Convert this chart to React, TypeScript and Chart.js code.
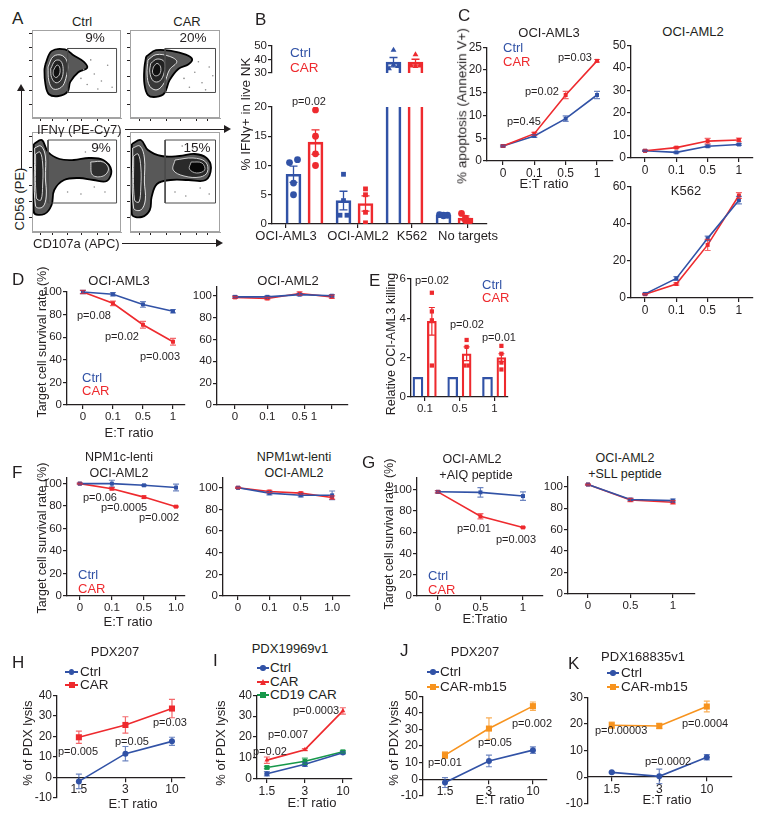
import React, { useEffect, useRef } from 'react';
import { Chart, registerables } from 'chart.js';

Chart.register(...registerables);

const FONT = '"Liberation Sans", Arial, Helvetica, sans-serif';
const INK = '#231f20';
const BLUE = '#3152a6';
const RED = '#ee2a2e';
const ORANGE = '#f7931e';
const GREEN = '#17984a';
const BLUE_ERR = 'rgba(49,82,166,0.7)';
const RED_ERR = 'rgba(238,42,46,0.7)';
const ORANGE_ERR = 'rgba(247,147,30,0.75)';
const GREEN_ERR = 'rgba(23,152,74,0.75)';

// ---------------- Panel A (flow plots, coordinates in % of plot) ----------------
const aHeaders = ['Ctrl', 'CAR'];
const aPercents = ['9%', '20%', '9%', '15%'];
const aTicksX = [10, 23, 40, 56, 74, 86];
const aTicksY = [15, 31, 47, 65, 80, 96];

const a1Gate = [[40, 29], [95, 29], [95, 79], [40, 79], [40, 29]];
const a1Outer = [[15, 61], [22, 76], [37, 78], [47, 71], [58, 64], [62, 57], [52, 52], [43, 41], [40, 30], [30, 25], [19, 27], [15, 39], [14, 54], [15, 61]];
const a1C2 = [[18, 58], [24, 70], [34, 71], [40, 62], [38, 45], [33, 35], [24, 33], [19, 42], [18, 58]];
const a1C3 = [[21, 56], [26, 65], [32, 65], [35, 56], [33, 44], [27, 40], [22, 46], [21, 56]];
const a1C4 = [[24, 54], [28, 60], [31, 58], [31, 50], [27, 46], [24, 49], [24, 54]];
const a1Dots = [[55, 45], [62, 38], [70, 50], [78, 42], [85, 60], [66, 66], [90, 35], [58, 55], [74, 33]];

const a2Gate = [[39, 29], [95, 29], [95, 79], [39, 79], [39, 29]];
const a2Outer = [[18, 70], [29, 77], [47, 76], [62, 72], [69, 67], [65, 61], [54, 56], [44, 43], [38, 28], [29, 24], [20, 26], [16, 39], [16, 57], [18, 70]];
const a2C2 = [[20, 66], [29, 72], [44, 70], [52, 64], [44, 55], [38, 40], [30, 32], [22, 36], [19, 50], [20, 66]];
const a2C3 = [[23, 62], [30, 67], [38, 64], [38, 52], [33, 42], [26, 42], [22, 52], [23, 62]];
const a2C4 = [[26, 58], [30, 62], [34, 58], [33, 50], [28, 48], [25, 52], [26, 58]];
const a2Dots = [[60, 45], [72, 52], [80, 40], [88, 58], [66, 35], [92, 48], [76, 64], [84, 32]];

const a3Gate = [[18, 29], [95, 29], [95, 92], [18, 92], [18, 29]];
const a3Outer = [[2, 88], [11, 92], [18, 80], [31, 73], [47, 72], [64, 74], [80, 72], [89, 62], [84, 51], [69, 52], [53, 54], [36, 52], [25, 42], [22, 27], [14, 18], [2, 20], [2, 88]];
const a3C2 = [[3, 84], [10, 86], [15, 76], [15, 55], [16, 36], [12, 25], [4, 26], [3, 84]];
const a3C3 = [[4, 78], [9, 80], [12, 68], [12, 48], [10, 32], [5, 34], [4, 78]];
const a3Tail = [[66, 70], [80, 70], [86, 63], [80, 56], [68, 57], [66, 70]];
const a3Dots = [[40, 40], [55, 38], [70, 45], [82, 40], [60, 80], [75, 84]];

const a4Gate = [[39, 29], [95, 29], [95, 92], [39, 92], [39, 29]];
const a4Outer = [[2, 88], [12, 92], [20, 82], [35, 76], [55, 76], [72, 78], [85, 74], [90, 64], [84, 52], [65, 52], [45, 52], [30, 48], [24, 35], [22, 22], [13, 15], [2, 18], [2, 88]];
const a4C2 = [[3, 84], [11, 86], [16, 74], [16, 50], [17, 32], [12, 22], [4, 24], [3, 84]];
const a4C3 = [[4, 76], [9, 78], [12, 65], [12, 45], [10, 30], [5, 32], [4, 76]];
const a4Tail = [[50, 72], [70, 74], [84, 70], [86, 60], [78, 55], [60, 56], [48, 62], [50, 72]];
const a4Core = [[68, 70], [80, 69], [83, 62], [74, 59], [66, 63], [68, 70]];
const a4Dots = [[50, 40], [62, 36], [78, 44], [88, 38], [70, 84], [58, 86]];

// ---------------- Panel B ----------------
const bCategories = ['OCI-AML3', 'OCI-AML2', 'K562', 'No targets'];
const bCtrlMean = [8.5, 4.0, 38.0, 1.5];
const bCtrlSem = [1.4, 1.6, 3.5, 0.3];
const bCarMean = [14.0, 3.5, 38.0, 1.0];
const bCarSem = [2.1, 1.3, 2.2, 0.4];
const bCtrlPts = [[10.5, 11.0, 7.0, 5.0], [8.5, 4.0, 1.5, 1.5], [47.0, 33.3, 36.0, 35.0], [1.6, 1.5, 1.5, 1.4]];
const bCarPts = [[19.5, 15.0, 12.0, 10.0], [6.0, 5.0, 2.0, 0.2], [43.6, 35.4, 35.0, 35.4], [1.8, 1.0, 0.5, 0.6]];
const bYTicksLow = [0, 5, 10, 15, 20];
const bYTicksHigh = [30, 40, 50];
const bPValue = 'p=0.02';

// ---------------- Panel C ----------------
const cEtLabels = ['0', '0.1', '0.5', '1'];
const cAml3Ctrl = [3.3, 5.5, 9.3, 14.5];
const cAml3CtrlErr = [0.2, 0.3, 0.6, 0.8];
const cAml3Car = [3.3, 6.0, 14.5, 22.0];
const cAml3CarErr = [0.2, 0.3, 0.8, 0.3];
const cAml2Ctrl = [3.2, 2.5, 5.2, 6.0];
const cAml2CtrlErr = [0.3, 0.3, 0.5, 0.4];
const cAml2Car = [3.2, 4.6, 7.5, 8.0];
const cAml2CarErr = [0.3, 0.4, 1.2, 0.8];
const cK562Ctrl = [2.2, 10.5, 32.0, 52.5];
const cK562CtrlErr = [0.4, 1.0, 1.2, 2.0];
const cK562Car = [2.0, 7.5, 28.5, 55.0];
const cK562CarErr = [0.3, 0.6, 3.0, 1.5];
const cYTicksAml3 = [0, 5, 10, 15, 20, 25];
const cYTicksAml2 = [0, 10, 20, 30, 40, 50];
const cYTicksK562 = [0, 20, 40, 60];
const cPValues = ['p=0.45', 'p=0.02', 'p=0.03'];

// ---------------- Panel D ----------------
const dEtLabels = ['0', '0.1', '0.5', '1'];
const dEtLabels2 = ['0', '0.1', '0.5 1', ''];
const dAml3Ctrl = [100, 98, 89, 83];
const dAml3CtrlErr = [1.5, 1.5, 2.5, 1.5];
const dAml3Car = [100, 90, 71, 56];
const dAml3CarErr = [1.5, 2, 3, 3];
const dAml2Ctrl = [99, 99, 101, 100];
const dAml2CtrlErr = [1, 1, 1, 1];
const dAml2Car = [98.5, 97.5, 102, 99];
const dAml2CarErr = [1, 1, 1.5, 1.5];
const survTicks = [0, 20, 40, 60, 80, 100];
const dPValues = ['p=0.08', 'p=0.02', 'p=0.003'];

// ---------------- Panel E ----------------
const eCategories = ['0.1', '0.5', '1'];
const eCtrl = [1, 1, 1];
const eCar = [3.85, 2.2, 2.0];
const eCarSem = [0.7, 0.35, 0.2];
const eCarPts = [[5.3, 4.35, 3.9, 1.6], [2.9, 2.55, 1.6, 1.6], [2.6, 2.2, 1.75, 1.4]];
const eYTicks = [0, 2, 4, 6];
const ePValues = ['p=0.02', 'p=0.02', 'p=0.01'];

// ---------------- Panel F ----------------
const fEtLabels = ['0', '0.1', '0.5', '1.0'];
const fCCtrl = [100, 100, 98.5, 96.5];
const fCCtrlErr = [0.5, 3, 0.5, 3];
const fCCar = [100, 95.5, 88, 79.5];
const fCCarErr = [0.5, 1, 1, 0.5];
const fWtCtrl = [100, 95, 93, 93];
const fWtCtrlErr = [0.5, 1.5, 1.5, 4];
const fWtCar = [100, 96.5, 95, 91];
const fWtCarErr = [0.5, 1, 1, 1.5];
const fPValues = ['p=0.06', 'p=0.0005', 'p=0.002'];

// ---------------- Panel G ----------------
const gEtLabels = ['0', '0.5', '1'];
const gAiqCtrl = [98, 97.5, 94];
const gAiqCtrlErr = [1, 4.5, 4];
const gAiqCar = [98, 75, 64.5];
const gAiqCarErr = [1, 2.5, 0.5];
const gSllCtrl = [102, 88, 87];
const gSllCtrlErr = [0.5, 1, 1.5];
const gSllCar = [102, 87.5, 85.5];
const gSllCarErr = [0.5, 1.5, 1.5];
const gPValues = ['p=0.01', 'p=0.003'];

// ---------------- Panels H-K ----------------
const pdxEtLabels = ['1.5', '3', '10'];
const hCtrl = [-2, 11.5, 17.5];
const hCtrlErr = [3.5, 3.5, 2];
const hCar = [19.5, 25.5, 33.5];
const hCarErr = [3, 4, 4.5];
const hYTicks = [-10, 0, 10, 20, 30, 40];
const hPValues = ['p=0.005', 'p=0.05', 'p=0.03'];

const iCtrl = [2.5, 7, 12.5];
const iCtrlErr = [1, 1, 0.5];
const iCar = [9, 14, 32.5];
const iCarErr = [1.5, 0.5, 1.5];
const iCd19 = [5.5, 8.5, 13];
const iCd19Err = [0.5, 1.5, 0.5];
const iYTicks = [0, 10, 20, 30, 40];
const iPValues = ['p=0.02', 'p=0.007', 'p=0.0003'];

const jCtrl = [-2, 11, 17.5];
const jCtrlErr = [3, 3.5, 2];
const jCar = [14.5, 30.5, 44];
const jCarErr = [2, 6.5, 2.5];
const jYTicks = [-10, 0, 10, 20, 30, 40, 50];
const jPValues = ['p=0.01', 'p=0.05', 'p=0.002'];

const kCtrl = [1.8, 0.3, 7.5];
const kCtrlErr = [0.3, 2.7, 1];
const kCar = [19.5, 19.2, 26.5];
const kCarErr = [1.2, 1, 2];
const kYTicks = [-10, 0, 10, 20, 30];
const kPValues = ['p=0.00003', 'p=0.0002', 'p=0.0004'];

// ============ helpers ============
type Rect = { x0: number; y0: number; x1: number; y1: number };
const AX_L = 34;
const AX_B = 22;
const PAD = 8;

function makeErrorBars(clip: boolean) {
  return {
    id: 'errorBars',
    afterDatasetsDraw(chart: any) {
      const { ctx, chartArea } = chart;
      ctx.save();
      if (clip) {
        ctx.beginPath();
        ctx.rect(chartArea.left - 10, chartArea.top, chartArea.right - chartArea.left + 20, chartArea.bottom - chartArea.top);
        ctx.clip();
      }
      chart.data.datasets.forEach((ds: any, i: number) => {
        if (!ds.errors) return;
        const meta = chart.getDatasetMeta(i);
        const ys = chart.scales[meta.yAxisID];
        ctx.strokeStyle = ds.errColor || ds.borderColor;
        ctx.lineWidth = ds.errWidth || 1.2;
        const cap = ds.errCap ?? 3;
        meta.data.forEach((el: any, j: number) => {
          const e = ds.errors[j];
          if (!e) return;
          const raw = ds.data[j];
          const v = typeof raw === 'number' ? raw : raw.y;
          const x = el.x;
          const y1 = ys.getPixelForValue(v + e);
          const y2 = ys.getPixelForValue(v - e);
          ctx.beginPath();
          ctx.moveTo(x, y1);
          ctx.lineTo(x, y2);
          ctx.moveTo(x - cap, y1);
          ctx.lineTo(x + cap, y1);
          ctx.moveTo(x - cap, y2);
          ctx.lineTo(x + cap, y2);
          ctx.stroke();
        });
      });
      ctx.restore();
    },
  };
}

const framePlugin = {
  id: 'frame',
  afterDraw(chart: any) {
    const { ctx, chartArea: a } = chart;
    ctx.save();
    ctx.strokeStyle = '#a3a3a3';
    ctx.lineWidth = 1;
    ctx.strokeRect(a.left + 0.5, a.top + 0.5, a.right - a.left - 1, a.bottom - a.top - 1);
    ctx.restore();
  },
};

function axisBase(size: number) {
  return {
    offset: false,
    grid: { display: true, offset: false, drawOnChartArea: false, drawTicks: true, tickLength: 4, color: INK, lineWidth: 1.2 },
    border: { display: true, color: INK, width: 1.3 },
    ticks: { color: INK, font: { family: FONT, size }, padding: 1, autoSkip: false, maxRotation: 0, minRotation: 0 },
  };
}

function yAxis(min: number, max: number, ticks: number[], size = 11.5) {
  const b = axisBase(size);
  return {
    type: 'linear',
    min,
    max,
    bounds: 'data',
    afterFit: (s: any) => { s.width = AX_L; },
    afterBuildTicks: (s: any) => { s.ticks = ticks.map((value) => ({ value })); },
    ...b,
  };
}

function xAxis(min: number, max: number, tickVals: number[], labels: string[], size = 11.5, atZero = false) {
  const b = axisBase(size);
  return {
    type: 'linear',
    min,
    max,
    bounds: 'data',
    position: atZero ? { y: 0 } : 'bottom',
    afterFit: (s: any) => { s.height = AX_B; },
    afterBuildTicks: (s: any) => { s.ticks = tickVals.map((value) => ({ value })); },
    ...b,
    ticks: { ...b.ticks, callback: (_v: any, i: number) => labels[i] ?? '' },
  };
}

function ChartCanvas({ left, top, width, height, make }: { left: number; top: number; width: number; height: number; make: () => any }) {
  const ref = useRef<HTMLCanvasElement | null>(null);
  useEffect(() => {
    if (!ref.current) return;
    const chart = new Chart(ref.current, make());
    return () => chart.destroy();
  }, []);
  return <canvas ref={ref} width={width} height={height} style={{ position: 'absolute', left, top, width, height }} />;
}

function ser(vals: number[], errs: number[], color: string, errColor: string, style = 'rect', r = 2.8) {
  return {
    type: 'line',
    data: vals.map((y, i) => ({ x: i, y })),
    errors: errs,
    errColor,
    borderColor: color,
    backgroundColor: color,
    borderWidth: 1.6,
    pointStyle: style,
    pointRadius: r,
    pointBorderWidth: 0,
    pointBackgroundColor: color,
    tension: 0,
    clip: false,
    fill: false,
  };
}

type LineSpec = {
  rect: Rect;
  xMin: number;
  xMax: number;
  xTicks: number[];
  xLabels: string[];
  yMin: number;
  yMax: number;
  yTicks: number[];
  series: () => any[];
  atZero?: boolean;
  size?: number;
};

function LinePanel(p: LineSpec) {
  const r = p.rect;
  const bottom = p.atZero ? PAD : AX_B;
  const left = r.x0 - AX_L;
  const top = r.y0 - PAD;
  const width = r.x1 - r.x0 + AX_L + PAD;
  const height = r.y1 - r.y0 + PAD + bottom;
  const size = p.size ?? 11.5;
  return (
    <ChartCanvas
      left={left}
      top={top}
      width={width}
      height={height}
      make={() => ({
        type: 'line',
        data: { datasets: p.series() },
        options: {
          animation: false,
          responsive: false,
          events: [],
          layout: { padding: { top: PAD, right: PAD, left: 0, bottom: p.atZero ? PAD : 0 } },
          plugins: { legend: { display: false }, tooltip: { enabled: false } },
          scales: {
            x: xAxis(p.xMin, p.xMax, p.xTicks, p.xLabels, size, !!p.atZero),
            y: yAxis(p.yMin, p.yMax, p.yTicks, size),
          },
        },
        plugins: [makeErrorBars(false)],
      })}
    />
  );
}

type Layer = { pts: number[][]; fill: string; stroke: string; width: number };

function FlowPlot({ rect, layers, gate, dots }: { rect: Rect; layers: Layer[]; gate: number[][]; dots: number[][] }) {
  const L = 4;
  const Bt = 4;
  const P = 2;
  const left = rect.x0 - L;
  const top = rect.y0 - P;
  const width = rect.x1 - rect.x0 + L + P;
  const height = rect.y1 - rect.y0 + P + Bt;
  const toXY = (arr: number[][]) => arr.map(([x, y]) => ({ x, y }));
  const tickAxis = (ticks: number[], fit: (s: any) => void, pos: string) => ({
    type: 'linear',
    min: 0,
    max: 100,
    bounds: 'data',
    position: pos,
    afterFit: fit,
    afterBuildTicks: (s: any) => { s.ticks = ticks.map((value) => ({ value })); },
    grid: { display: true, drawOnChartArea: false, drawTicks: true, tickLength: 3, color: INK, lineWidth: 1 },
    border: { display: true, color: '#a3a3a3', width: 1 },
    ticks: { display: false },
  });
  return (
    <ChartCanvas
      left={left}
      top={top}
      width={width}
      height={height}
      make={() => ({
        type: 'line',
        data: {
          datasets: [
            { type: 'scatter', data: toXY(dots), pointRadius: 0.8, pointBackgroundColor: '#8a8a8a', pointBorderWidth: 0 },
            { type: 'line', data: toXY(gate), borderColor: '#4a4a4a', borderWidth: 1, pointRadius: 0, tension: 0, fill: false },
            ...layers
              .slice()
              .reverse()
              .map((l) => ({
                type: 'line',
                data: toXY(l.pts),
                borderColor: l.stroke,
                borderWidth: l.width,
                backgroundColor: l.fill,
                fill: 'shape',
                pointRadius: 0,
                tension: 0.38,
              })),
          ],
        },
        options: {
          animation: false,
          responsive: false,
          events: [],
          layout: { padding: { top: P, right: P, left: 0, bottom: 0 } },
          plugins: { legend: { display: false }, tooltip: { enabled: false } },
          scales: {
            x: tickAxis(aTicksX, (s: any) => { s.height = Bt; }, 'bottom'),
            y: tickAxis(aTicksY, (s: any) => { s.width = L; }, 'left'),
          },
        },
        plugins: [framePlugin],
      })}
    />
  );
}

function Txt({ x, y, children, size = 13, color = INK, align = 'left', vertical = false }: any) {
  let transform = 'translateY(-50%)';
  if (align === 'center') transform = 'translate(-50%,-50%)';
  if (vertical) transform = 'translate(-50%,-50%) rotate(-90deg)';
  return (
    <div style={{ position: 'absolute', left: x, top: y, fontFamily: FONT, fontSize: size, color, whiteSpace: 'nowrap', lineHeight: 1, transform }}>
      {children}
    </div>
  );
}

function LegendMark({ x, y, w = 13, color, shape }: any) {
  const size = shape === 'rect' ? 6 : 5.5;
  let marker;
  if (shape === 'triangle') {
    marker = (
      <div style={{ position: 'absolute', left: x + w / 2 - 3.5, top: y - 3.5, width: 0, height: 0, borderLeft: '3.5px solid transparent', borderRight: '3.5px solid transparent', borderBottom: `6px solid ${color}` }} />
    );
  } else {
    marker = (
      <div style={{ position: 'absolute', left: x + w / 2 - size / 2, top: y - size / 2, width: size, height: size, background: color, borderRadius: shape === 'circle' ? '50%' : 0 }} />
    );
  }
  return (
    <>
      <div style={{ position: 'absolute', left: x, top: y - 0.75, width: w, height: 1.5, background: color }} />
      {marker}
    </>
  );
}

function HArrow({ x1, x2, y }: any) {
  return (
    <>
      <div style={{ position: 'absolute', left: x1, top: y - 0.5, width: x2 - x1 - 6, height: 1, background: INK }} />
      <div style={{ position: 'absolute', left: x2 - 7, top: y - 4, width: 0, height: 0, borderTop: '4px solid transparent', borderBottom: '4px solid transparent', borderLeft: `7px solid ${INK}` }} />
    </>
  );
}

function VArrow({ x, yBottom, yTop }: any) {
  return (
    <>
      <div style={{ position: 'absolute', left: x - 0.5, top: yTop + 6, width: 1, height: yBottom - yTop - 6, background: INK }} />
      <div style={{ position: 'absolute', left: x - 4, top: yTop, width: 0, height: 0, borderLeft: '4px solid transparent', borderRight: '4px solid transparent', borderBottom: `7px solid ${INK}` }} />
    </>
  );
}

const outerStyle = { fill: '#585858', stroke: '#000', width: 1.8 };
const l2Style = { fill: '#383838', stroke: '#f2f2f2', width: 0.9 };
const l3Style = { fill: '#222222', stroke: '#e0e0e0', width: 0.9 };
const l4Style = { fill: '#101010', stroke: '#d0d0d0', width: 0.9 };

// B charts
const bXMin = -0.65;
const bXMax = 3.65;
const bOff = [-0.22, 0.22];
const bJitterCtrl = [[-0.08, 0.08, 0, 0], [0, 0, -0.07, 0.07], [0, -0.09, 0, 0.09], [-0.08, 0, 0.08, 0]];
const bJitterCar = [[0, 0, 0, 0], [0, 0, 0, 0], [0, -0.09, 0, 0.09], [-0.08, 0, 0.08, 0]];
const bShapes = ['circle', 'rect', 'triangle', 'circle'];
const bLabelPos = [-0.37, 1.07, 2.15, 3.27];

function bDatasets() {
  const bar = (means: number[], sems: number[], off: number, color: string) => ({
    type: 'bar',
    data: means.map((y, i) => ({ x: i + off, y })),
    backgroundColor: 'rgba(255,255,255,0)',
    borderColor: color,
    borderWidth: 2,
    barThickness: 15,
    grouped: false,
    errors: sems,
    errColor: color,
    errCap: 4,
    errWidth: 1.3,
    order: 2,
  });
  const pts = (vals: number[][], jit: number[][], off: number, color: string) => {
    const data: any[] = [];
    const styles: string[] = [];
    vals.forEach((arr, i) => arr.forEach((y, k) => { data.push({ x: i + off + jit[i][k], y }); styles.push(bShapes[i]); }));
    return { type: 'scatter', data, pointStyle: styles, pointRadius: 3.4, pointBackgroundColor: color, pointBorderWidth: 0, order: 1 };
  };
  return [
    bar(bCtrlMean, bCtrlSem, bOff[0], BLUE),
    bar(bCarMean, bCarSem, bOff[1], RED),
    pts(bCtrlPts, bJitterCtrl, bOff[0], BLUE),
    pts(bCarPts, bJitterCar, bOff[1], RED),
  ];
}

function BPanel({ rect, yMin, yMax, yTicks, showX }: any) {
  const bottom = showX ? AX_B : PAD;
  const RP = 26;
  return (
    <ChartCanvas
      left={rect.x0 - AX_L}
      top={rect.y0 - PAD}
      width={rect.x1 - rect.x0 + AX_L + RP}
      height={rect.y1 - rect.y0 + PAD + bottom}
      make={() => ({
        type: 'bar',
        data: { datasets: bDatasets() },
        options: {
          animation: false,
          responsive: false,
          events: [],
          layout: { padding: { top: PAD, right: RP, left: 0, bottom: showX ? 0 : PAD } },
          plugins: { legend: { display: false }, tooltip: { enabled: false } },
          scales: {
            x: { ...xAxis(bXMin, bXMax, bLabelPos, bCategories, 13), display: showX },
            y: yAxis(yMin, yMax, yTicks, 11.5),
          },
        },
        plugins: [makeErrorBars(true)],
      })}
    />
  );
}

// E chart
const eOff = [-0.2, 0.2];
const eJitter = [[0, 0, 0, 0], [0, 0, -0.06, 0.06], [0, 0, 0, 0]];

function EPanel() {
  const rect = { x0: 411, y0: 279, x1: 508, y1: 397 };
  return (
    <ChartCanvas
      left={rect.x0 - AX_L}
      top={rect.y0 - PAD}
      width={rect.x1 - rect.x0 + AX_L + PAD}
      height={rect.y1 - rect.y0 + PAD + AX_B}
      make={() => {
        const pts: any[] = [];
        eCarPts.forEach((arr, i) => arr.forEach((y, k) => pts.push({ x: i + eOff[1] + eJitter[i][k], y })));
        return {
          type: 'bar',
          data: {
            datasets: [
              { type: 'bar', data: eCtrl.map((y, i) => ({ x: i + eOff[0], y })), backgroundColor: 'rgba(255,255,255,0)', borderColor: BLUE, borderWidth: 1.6, barThickness: 10, grouped: false, order: 2 },
              { type: 'bar', data: eCar.map((y, i) => ({ x: i + eOff[1], y })), backgroundColor: 'rgba(255,255,255,0)', borderColor: RED, borderWidth: 1.6, barThickness: 9, grouped: false, errors: eCarSem, errColor: RED, errCap: 3, order: 2 },
              { type: 'scatter', data: pts, pointStyle: 'rect', pointRadius: 3, pointBackgroundColor: RED, pointBorderWidth: 0, order: 1 },
            ],
          },
          options: {
            animation: false,
            responsive: false,
            events: [],
            layout: { padding: { top: PAD, right: PAD, left: 0, bottom: 0 } },
            plugins: { legend: { display: false }, tooltip: { enabled: false } },
            scales: {
              x: xAxis(-0.4, 2.39, [0, 1, 2], eCategories, 11.5),
              y: yAxis(0, 6, eYTicks, 11.5),
            },
          },
          plugins: [makeErrorBars(false)],
        };
      }}
    />
  );
}

export default function App() {
  const L = 17; // panel letter size
  const P = 11; // p-value size
  return (
    <div style={{ position: 'absolute', left: 0, top: 0, width: 764, height: 817, background: '#fff', overflow: 'hidden' }}>
      {/* ===== A ===== */}
      <Txt x={12} y={18} size={L}>A</Txt>
      <Txt x={82} y={21} align="center">{aHeaders[0]}</Txt>
      <Txt x={187} y={21} align="center">{aHeaders[1]}</Txt>
      <FlowPlot rect={{ x0: 32, y0: 28, x1: 123, y1: 118 }} gate={a1Gate} dots={a1Dots}
        layers={[{ pts: a1Outer, ...outerStyle }, { pts: a1C2, ...l2Style }, { pts: a1C3, ...l3Style }, { pts: a1C4, ...l4Style }]} />
      <FlowPlot rect={{ x0: 130, y0: 28, x1: 222, y1: 118 }} gate={a2Gate} dots={a2Dots}
        layers={[{ pts: a2Outer, ...outerStyle }, { pts: a2C2, ...l2Style }, { pts: a2C3, ...l3Style }, { pts: a2C4, ...l4Style }]} />
      <FlowPlot rect={{ x0: 32, y0: 130, x1: 123, y1: 232 }} gate={a3Gate} dots={a3Dots}
        layers={[{ pts: a3Outer, ...outerStyle }, { pts: a3Tail, fill: '#2e2e2e', stroke: '#e0e0e0', width: 0.9 }, { pts: a3C2, ...l2Style }, { pts: a3C3, ...l3Style }]} />
      <FlowPlot rect={{ x0: 130, y0: 130, x1: 222, y1: 232 }} gate={a4Gate} dots={a4Dots}
        layers={[{ pts: a4Outer, ...outerStyle }, { pts: a4Tail, fill: '#2a2a2a', stroke: '#e0e0e0', width: 0.9 }, { pts: a4Core, fill: '#080808', stroke: '#bbbbbb', width: 0.9 }, { pts: a4C2, ...l2Style }, { pts: a4C3, ...l3Style }]} />
      <Txt x={95} y={38} size={13.5} align="center">{aPercents[0]}</Txt>
      <Txt x={193} y={38} size={13.5} align="center">{aPercents[1]}</Txt>
      <Txt x={101} y={148} size={13.5} align="center">{aPercents[2]}</Txt>
      <Txt x={197} y={148} size={13.5} align="center">{aPercents[3]}</Txt>
      <Txt x={37} y={129}>IFNγ (PE-Cy7)</Txt>
      <HArrow x1={125} x2={231} y={129} />
      <Txt x={33} y={243}>CD107a (APC)</Txt>
      <HArrow x1={122} x2={223} y={243} />
      <Txt x={19} y={199} vertical>CD56 (PE)</Txt>
      <VArrow x={21} yBottom={170} yTop={84} />

      {/* ===== B ===== */}
      <Txt x={255} y={19} size={L}>B</Txt>
      <BPanel rect={{ x0: 272, y0: 46, x1: 487, y1: 95 }} yMin={30} yMax={50} yTicks={bYTicksHigh} showX={false} />
      <BPanel rect={{ x0: 272, y0: 107, x1: 487, y1: 224 }} yMin={0} yMax={20} yTicks={bYTicksLow} showX={true} />
      <Txt x={290} y={53} size={13.5} color={BLUE}>Ctrl</Txt>
      <Txt x={290} y={68} size={13.5} color={RED}>CAR</Txt>
      <Txt x={292} y={101} size={P}>{bPValue}</Txt>
      <Txt x={246} y={114} size={13.5} vertical>% IFNγ+ in live NK</Txt>

      {/* ===== C ===== */}
      <Txt x={458} y={15} size={L}>C</Txt>
      <Txt x={549} y={32} align="center">OCI-AML3</Txt>
      <LinePanel rect={{ x0: 487, y0: 47, x1: 613, y1: 161 }} xMin={-0.51} xMax={3.51} xTicks={[0, 1, 2, 3]} xLabels={cEtLabels}
        yMin={0} yMax={25} yTicks={cYTicksAml3} size={12}
        series={() => [ser(cAml3Car, cAml3CarErr, RED, RED_ERR), ser(cAml3Ctrl, cAml3CtrlErr, BLUE, BLUE_ERR)]} />
      <Txt x={503} y={47} color={BLUE}>Ctrl</Txt>
      <Txt x={503} y={61} color={RED}>CAR</Txt>
      <Txt x={507} y={121} size={P}>{cPValues[0]}</Txt>
      <Txt x={525} y={91} size={P}>{cPValues[1]}</Txt>
      <Txt x={558} y={57} size={P}>{cPValues[2]}</Txt>
      <Txt x={462} y={106} size={13.5} vertical>% apoptosis (Annexin V+)</Txt>
      <Txt x={544} y={183} align="center">E:T ratio</Txt>
      <Txt x={693} y={31} align="center">OCI-AML2</Txt>
      <LinePanel rect={{ x0: 631, y0: 45, x1: 753, y1: 158 }} xMin={-0.45} xMax={3.45} xTicks={[0, 1, 2, 3]} xLabels={cEtLabels}
        yMin={0} yMax={50} yTicks={cYTicksAml2} size={12}
        series={() => [ser(cAml2Car, cAml2CarErr, RED, RED_ERR), ser(cAml2Ctrl, cAml2CtrlErr, BLUE, BLUE_ERR)]} />
      <LinePanel rect={{ x0: 631, y0: 186, x1: 753, y1: 298 }} xMin={-0.45} xMax={3.45} xTicks={[0, 1, 2, 3]} xLabels={cEtLabels}
        yMin={0} yMax={60} yTicks={cYTicksK562} size={12}
        series={() => [ser(cK562Ctrl, cK562CtrlErr, BLUE, BLUE_ERR), ser(cK562Car, cK562CarErr, RED, RED_ERR)]} />
      <Txt x={686} y={190} align="center">K562</Txt>

      {/* ===== D ===== */}
      <Txt x={12} y={279} size={L}>D</Txt>
      <Txt x={119} y={280} align="center">OCI-AML3</Txt>
      <Txt x={288} y={280} align="center">OCI-AML2</Txt>
      <LinePanel rect={{ x0: 67, y0: 292, x1: 185, y1: 405 }} xMin={-0.53} xMax={3.4} xTicks={[0, 1, 2, 3]} xLabels={dEtLabels}
        yMin={0} yMax={100} yTicks={survTicks}
        series={() => [ser(dAml3Ctrl, dAml3CtrlErr, BLUE, BLUE_ERR), ser(dAml3Car, dAml3CarErr, RED, RED_ERR)]} />
      <LinePanel rect={{ x0: 217, y0: 287, x1: 348, y1: 405 }} xMin={-0.56} xMax={3.5} xTicks={[0, 1, 2.15, 3]} xLabels={dEtLabels2}
        yMin={0} yMax={108} yTicks={survTicks}
        series={() => [ser(dAml2Ctrl, dAml2CtrlErr, BLUE, BLUE_ERR), ser(dAml2Car, dAml2CarErr, RED, RED_ERR)]} />
      <Txt x={77} y={315} size={P}>{dPValues[0]}</Txt>
      <Txt x={105} y={336} size={P}>{dPValues[1]}</Txt>
      <Txt x={140} y={356} size={P}>{dPValues[2]}</Txt>
      <Txt x={82} y={377} color={BLUE}>Ctrl</Txt>
      <Txt x={82} y={390} color={RED}>CAR</Txt>
      <Txt x={42} y={342} size={12.5} vertical>Target cell survival rate (%)</Txt>
      <Txt x={129} y={432} align="center">E:T ratio</Txt>

      {/* ===== E ===== */}
      <Txt x={369} y={280} size={L}>E</Txt>
      <EPanel />
      <Txt x={415} y={280} size={P}>{ePValues[0]}</Txt>
      <Txt x={450} y={324} size={P}>{ePValues[1]}</Txt>
      <Txt x={482} y={337} size={P}>{ePValues[2]}</Txt>
      <Txt x={482} y={284} color={BLUE}>Ctrl</Txt>
      <Txt x={482} y={297} color={RED}>CAR</Txt>
      <Txt x={391} y={344} size={12.5} vertical>Relative OCI-AML3 killing</Txt>

      {/* ===== F ===== */}
      <Txt x={12} y={472} size={L}>F</Txt>
      <Txt x={119} y={457} size={12.5} align="center">NPM1c-lenti</Txt>
      <Txt x={119} y={473} size={12.5} align="center">OCI-AML2</Txt>
      <Txt x={294} y={457} size={12.5} align="center">NPM1wt-lenti</Txt>
      <Txt x={294} y={473} size={12.5} align="center">OCI-AML2</Txt>
      <LinePanel rect={{ x0: 67, y0: 478, x1: 185, y1: 596 }} xMin={-0.4} xMax={3.28} xTicks={[0, 1, 2, 3]} xLabels={fEtLabels}
        yMin={0} yMax={105} yTicks={survTicks}
        series={() => [ser(fCCtrl, fCCtrlErr, BLUE, BLUE_ERR), ser(fCCar, fCCarErr, RED, RED_ERR)]} />
      <LinePanel rect={{ x0: 223, y0: 478, x1: 350, y1: 596 }} xMin={-0.48} xMax={3.57} xTicks={[0, 1, 2, 3]} xLabels={fEtLabels}
        yMin={0} yMax={109} yTicks={survTicks}
        series={() => [ser(fWtCtrl, fWtCtrlErr, BLUE, BLUE_ERR), ser(fWtCar, fWtCarErr, RED, RED_ERR)]} />
      <Txt x={83} y={497} size={P}>{fPValues[0]}</Txt>
      <Txt x={101} y={507} size={P}>{fPValues[1]}</Txt>
      <Txt x={139} y={517} size={P}>{fPValues[2]}</Txt>
      <Txt x={78} y={574} color={BLUE}>Ctrl</Txt>
      <Txt x={78} y={588} color={RED}>CAR</Txt>
      <Txt x={42} y={538} size={12.5} vertical>Target cell survival rate (%)</Txt>
      <Txt x={128} y={621} align="center">E:T ratio</Txt>

      {/* ===== G ===== */}
      <Txt x={362} y={462} size={L}>G</Txt>
      <Txt x={472} y={459} size={12.5} align="center">OCI-AML2</Txt>
      <Txt x={476} y={475} size={12.5} align="center">+AIQ peptide</Txt>
      <Txt x={625} y={458} size={12.5} align="center">OCI-AML2</Txt>
      <Txt x={625} y={474} size={12.5} align="center">+SLL peptide</Txt>
      <LinePanel rect={{ x0: 417, y0: 478, x1: 543, y1: 596 }} xMin={-0.49} xMax={2.47} xTicks={[0, 1, 2]} xLabels={gEtLabels}
        yMin={0} yMax={111} yTicks={survTicks}
        series={() => [ser(gAiqCtrl, gAiqCtrlErr, BLUE, BLUE_ERR), ser(gAiqCar, gAiqCarErr, RED, RED_ERR)]} />
      <LinePanel rect={{ x0: 568, y0: 477, x1: 695, y1: 594 }} xMin={-0.47} xMax={2.52} xTicks={[0, 1, 2]} xLabels={gEtLabels}
        yMin={0} yMax={109} yTicks={survTicks}
        series={() => [ser(gSllCtrl, gSllCtrlErr, BLUE, BLUE_ERR), ser(gSllCar, gSllCarErr, RED, RED_ERR)]} />
      <Txt x={457} y={528} size={P}>{gPValues[0]}</Txt>
      <Txt x={496} y={539} size={P}>{gPValues[1]}</Txt>
      <Txt x={428} y={575} color={BLUE}>Ctrl</Txt>
      <Txt x={428} y={589} color={RED}>CAR</Txt>
      <Txt x={389} y={534} size={12.5} vertical>Target cell survival rate (%)</Txt>
      <Txt x={485} y={618} align="center">E:Tratio</Txt>

      {/* ===== H ===== */}
      <Txt x={12} y={662} size={L}>H</Txt>
      <Txt x={115} y={651} align="center">PDX207</Txt>
      <LegendMark x={65} y={672} color={BLUE} shape="circle" />
      <Txt x={80} y={672} size={13.5}>Ctrl</Txt>
      <LegendMark x={65} y={685} color={RED} shape="rect" />
      <Txt x={80} y={685} size={13.5}>CAR</Txt>
      <LinePanel rect={{ x0: 57, y0: 695, x1: 185, y1: 798 }} xMin={-0.47} xMax={2.28} xTicks={[0, 1, 2]} xLabels={pdxEtLabels}
        yMin={-10} yMax={40} yTicks={hYTicks} atZero size={12}
        series={() => [ser(hCtrl, hCtrlErr, BLUE, BLUE_ERR, 'circle', 3), ser(hCar, hCarErr, RED, RED_ERR, 'rect', 4.3)]} />
      <Txt x={58} y={751} size={P}>{hPValues[0]}</Txt>
      <Txt x={115} y={741} size={P}>{hPValues[1]}</Txt>
      <Txt x={153} y={722} size={P}>{hPValues[2]}</Txt>
      <Txt x={27} y={743} vertical>% of PDX lysis</Txt>
      <Txt x={133} y={803} align="center">E:T ratio</Txt>

      {/* ===== I ===== */}
      <Txt x={213} y={660} size={L}>I</Txt>
      <Txt x={290} y={648} align="center">PDX19969v1</Txt>
      <LegendMark x={257} y={668} w={12} color={BLUE} shape="circle" />
      <Txt x={270} y={668} size={13.5}>Ctrl</Txt>
      <LegendMark x={257} y={682} w={12} color={RED} shape="triangle" />
      <Txt x={270} y={682} size={13.5}>CAR</Txt>
      <LegendMark x={257} y={695} w={12} color={GREEN} shape="rect" />
      <Txt x={270} y={695} size={13.5}>CD19 CAR</Txt>
      <LinePanel rect={{ x0: 257, y0: 695, x1: 352, y1: 779 }} xMin={-0.26} xMax={2.24} xTicks={[0, 1, 2]} xLabels={pdxEtLabels}
        yMin={0} yMax={40} yTicks={iYTicks} size={12}
        series={() => [ser(iCtrl, iCtrlErr, BLUE, BLUE_ERR, 'circle', 2.6), ser(iCd19, iCd19Err, GREEN, GREEN_ERR, 'rect', 3.4), ser(iCar, iCarErr, RED, RED_ERR, 'triangle', 2.8)]} />
      <Txt x={253} y={751} size={P}>{iPValues[0]}</Txt>
      <Txt x={268} y={734} size={P}>{iPValues[1]}</Txt>
      <Txt x={293} y={710} size={P}>{iPValues[2]}</Txt>
      <Txt x={220} y={743} vertical>% of PDX lysis</Txt>
      <Txt x={312} y={802} align="center">E:T ratio</Txt>

      {/* ===== J ===== */}
      <Txt x={400} y={650} size={L}>J</Txt>
      <Txt x={475} y={651} align="center">PDX207</Txt>
      <LegendMark x={427} y={672} w={12} color={BLUE} shape="circle" />
      <Txt x={440} y={672} size={13.5}>Ctrl</Txt>
      <LegendMark x={427} y={687} w={12} color={ORANGE} shape="rect" />
      <Txt x={440} y={687} size={13.5}>CAR-mb15</Txt>
      <LinePanel rect={{ x0: 423, y0: 696, x1: 547, y1: 796 }} xMin={-0.5} xMax={2.32} xTicks={[0, 1, 2]} xLabels={pdxEtLabels}
        yMin={-10} yMax={50} yTicks={jYTicks} atZero size={12}
        series={() => [ser(jCtrl, jCtrlErr, BLUE, BLUE_ERR, 'circle', 3), ser(jCar, jCarErr, ORANGE, ORANGE_ERR, 'rect', 4.3)]} />
      <Txt x={428} y={762} size={P}>{jPValues[0]}</Txt>
      <Txt x={478} y={742} size={P}>{jPValues[1]}</Txt>
      <Txt x={512} y={723} size={P}>{jPValues[2]}</Txt>
      <Txt x={393} y={743} vertical>% of PDX lysis</Txt>
      <Txt x={500} y={799} align="center">E:T ratio</Txt>

      {/* ===== K ===== */}
      <Txt x={568} y={663} size={L}>K</Txt>
      <Txt x={643} y={656} align="center">PDX168835v1</Txt>
      <LegendMark x={607} y={673} w={12} color={BLUE} shape="circle" />
      <Txt x={621} y={673} size={13.5}>Ctrl</Txt>
      <LegendMark x={607} y={687} w={12} color={ORANGE} shape="rect" />
      <Txt x={621} y={687} size={13.5}>CAR-mb15</Txt>
      <LinePanel rect={{ x0: 588, y0: 697, x1: 732, y1: 804 }} xMin={-0.5} xMax={2.53} xTicks={[0, 1, 2]} xLabels={pdxEtLabels}
        yMin={-10} yMax={30} yTicks={kYTicks} atZero size={12}
        series={() => [ser(kCtrl, kCtrlErr, BLUE, BLUE_ERR, 'circle', 3), ser(kCar, kCarErr, ORANGE, ORANGE_ERR, 'rect', 4.3)]} />
      <Txt x={595} y={730} size={P}>{kPValues[0]}</Txt>
      <Txt x={645} y={761} size={P}>{kPValues[1]}</Txt>
      <Txt x={682} y={723} size={P}>{kPValues[2]}</Txt>
      <Txt x={667} y={799} align="center">E:T ratio</Txt>
    </div>
  );
}
